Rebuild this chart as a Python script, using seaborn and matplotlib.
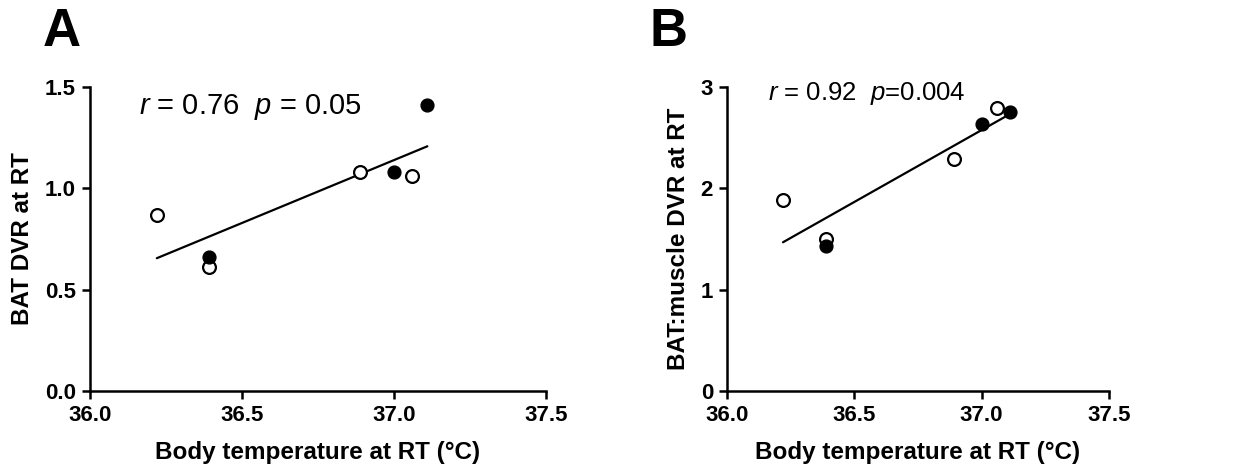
import matplotlib
matplotlib.use("Agg")
import matplotlib.pyplot as plt
import numpy as np
import pandas as pd
import seaborn as sns

# body temperature at RT, same subjects in both panels
body_temp = [36.22, 36.39, 36.39, 36.89, 37.00, 37.06, 37.11]
filled = [False, True, False, False, True, False, True]
filled_b = [False, False, True, False, True, False, True]

bat_dvr = [0.87, 0.66, 0.61, 1.08, 1.08, 1.06, 1.41]
bat_muscle_dvr = [1.88, 1.50, 1.43, 2.29, 2.63, 2.79, 2.75]

x_ticks = [36.0, 36.5, 37.0, 37.5]
ya_ticks = [0.0, 0.5, 1.0, 1.5]
yb_ticks = [0, 1, 2, 3]

sns.set_style("ticks", {"axes.edgecolor": "black", "text.color": "black",
                        "axes.labelcolor": "black", "xtick.color": "black",
                        "ytick.color": "black"})
plt.rcParams['font.family'] = ['Liberation Sans', 'DejaVu Sans']
plt.rcParams['mathtext.fontset'] = 'custom'
plt.rcParams['mathtext.it'] = 'Liberation Sans:italic'
plt.rcParams['mathtext.rm'] = 'Liberation Sans'

df_a = pd.DataFrame({"temp": body_temp, "val": bat_dvr, "filled": filled})
df_b = pd.DataFrame({"temp": body_temp, "val": bat_muscle_dvr, "filled": filled_b})

fig = plt.figure(figsize=(12.41, 4.76), dpi=100)
ax_a = fig.add_axes([0.0725, 0.1786, 0.3674, 0.6387])
ax_b = fig.add_axes([0.5858, 0.1786, 0.3078, 0.6387])

def draw_panel(ax, df, yticks, ylabel, yfmt, note, note_y, note_size):
    sns.regplot(data=df, x="temp", y="val", ax=ax, scatter=False, ci=None,
                color="black", line_kws={"linewidth": 1.6})
    open_pts = df[~df["filled"]]
    full_pts = df[df["filled"]]
    sns.scatterplot(data=open_pts, x="temp", y="val", ax=ax, s=85,
                    facecolor="white", edgecolor="black", linewidth=1.6, zorder=3)
    sns.scatterplot(data=full_pts, x="temp", y="val", ax=ax, s=85,
                    color="black", edgecolor="black", linewidth=1.0, zorder=4)
    ax.set_xlim(36.0, 37.5)
    ax.set_ylim(yticks[0], yticks[-1])
    ax.set_xticks(x_ticks)
    ax.set_xticklabels(["{:.1f}".format(t) for t in x_ticks], fontsize=16, fontweight="bold")
    ax.set_yticks(yticks)
    ax.set_yticklabels([yfmt.format(t) for t in yticks], fontsize=16, fontweight="bold")
    ax.set_xlabel("Body temperature at RT (°C)", fontsize=17.5, fontweight="bold", labelpad=11)
    ax.set_ylabel(ylabel, fontsize=17.5, fontweight="bold", labelpad=8)
    for side in ["top", "right"]:
        ax.spines[side].set_visible(False)
    for side in ["left", "bottom"]:
        ax.spines[side].set_linewidth(1.8)
    ax.tick_params(width=1.8, length=6, direction="out", pad=4, colors="black")
    ax.text(36.16, note_y, note, fontsize=note_size, va="center", ha="left", color="black")

draw_panel(ax_a, df_a, ya_ticks, "BAT DVR at RT", "{:.1f}",
           r"$r$ = 0.76  $p$ = 0.05", 1.40, 21)
draw_panel(ax_b, df_b, yb_ticks, "BAT:muscle DVR at RT", "{:d}",
           r"$r$ = 0.92  $p$=0.004", 2.94, 18.5)

fig.text(0.034, 0.985, "A", fontsize=38, fontweight="bold", va="top", ha="left", color="black")
fig.text(0.523, 0.985, "B", fontsize=38, fontweight="bold", va="top", ha="left", color="black")

fig.savefig("out.png", dpi=100)
